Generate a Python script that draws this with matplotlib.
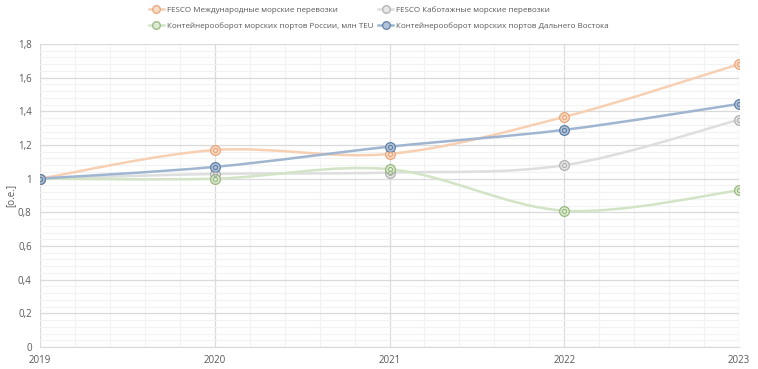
import matplotlib
matplotlib.use("Agg")
import matplotlib.pyplot as plt
from matplotlib.path import Path
from matplotlib.patches import PathPatch
from matplotlib.ticker import MultipleLocator, FuncFormatter
import numpy as np

years = [2019, 2020, 2021, 2022, 2023]
fesco_intl = [1.0, 1.17, 1.147, 1.367, 1.68]
fesco_cabot = [1.0, 1.028, 1.036, 1.08, 1.35]
ports_russia = [1.0, 1.0, 1.056, 0.81, 0.93]
ports_fareast = [1.0, 1.07, 1.19, 1.29, 1.444]

labels = [
    "FESCO Международные морские перевозки",
    "FESCO Каботажные морские перевозки",
    "Контейнерооборот морских портов России, млн TEU",
    "Контейнерооборот морских портов Дальнего Востока",
]
line_colors = ["#F7D0B3", "#DEDEDE", "#D2E4C5", "#9FB5D0"]
face_colors = ["#F9DCC6", "#E6E6E6", "#DDEBD3", "#B3C4DA"]
edge_colors = ["#E9A57A", "#B0B0B0", "#97B87F", "#5F7FA5"]

plt.rcParams['font.family'] = ['Open Sans', 'DejaVu Sans']
text_color = "#595959"


def smooth_path(xs, ys, t=1/6):
    # Excel-style smoothed line: cubic Bezier segments with Catmull-Rom tangents
    pts = np.column_stack([xs, ys]).astype(float)
    n = len(pts)
    verts = [pts[0]]
    codes = [Path.MOVETO]
    for i in range(n - 1):
        p0 = pts[i - 1] if i > 0 else pts[i]
        p1 = pts[i]
        p2 = pts[i + 1]
        p3 = pts[i + 2] if i + 2 < n else pts[i + 1]
        c1 = p1 + (p2 - p0) * t
        c2 = p2 - (p3 - p1) * t
        verts += [c1, c2, p2]
        codes += [Path.CURVE4] * 3
    return Path(verts, codes)


fig = plt.figure(figsize=(7.58, 3.69), dpi=100)
ax = fig.add_axes([0.0528, 0.0596, 0.9222, 0.8212])

series = [fesco_intl, fesco_cabot, ports_russia, ports_fareast]
handles = []
for vals, lc, fc, ec, lab in zip(series, line_colors, face_colors, edge_colors, labels):
    patch = PathPatch(smooth_path(years, vals), facecolor="none", edgecolor=lc,
                      lw=1.8, zorder=3, capstyle="round")
    ax.add_patch(patch)
    ax.plot(years, vals, "o", ms=7, mfc=fc, mec=ec, mew=0.9, zorder=4)
    ax.plot(years, vals, "o", ms=3, mfc="none", mec=ec, mew=0.8, zorder=5)
    h, = ax.plot([], [], "-o", color=lc, lw=1.8, ms=5.5, mfc=fc, mec=ec, mew=0.9,
                 label=lab)
    handles.append(h)

ax.set_xlim(2019, 2023)
ax.set_ylim(0, 1.8)
ax.xaxis.set_major_locator(MultipleLocator(1))
ax.xaxis.set_minor_locator(MultipleLocator(0.2))
ax.yaxis.set_major_locator(MultipleLocator(0.2))
ax.yaxis.set_minor_locator(MultipleLocator(0.04))


def fmt(v, pos):
    s = f"{v:.1f}".rstrip("0").rstrip(".")
    return s.replace(".", ",")


ax.yaxis.set_major_formatter(FuncFormatter(fmt))
ax.xaxis.set_major_formatter(FuncFormatter(lambda v, p: f"{int(round(v))}"))

ax.grid(which="major", color="#DADADA", lw=0.9)
ax.grid(which="minor", color="#F2F2F2", lw=0.8)
ax.set_axisbelow(True)
for side in ["top", "right", "left"]:
    ax.spines[side].set_visible(False)
ax.spines["bottom"].set_color("#D9D9D9")
ax.tick_params(which="both", length=0, colors=text_color, labelsize=7)
ax.tick_params(axis="y", pad=6)
ax.tick_params(axis="x", pad=6)

ax.set_ylabel("[о.е.]", fontsize=7, color=text_color, labelpad=1)

# Excel legend fills row by row; matplotlib fills by column
order = [0, 2, 1, 3]
fig.legend(handles=[handles[i] for i in order], loc="upper center",
           bbox_to_anchor=(0.5, 1.0), ncol=2, frameon=False, fontsize=5.8,
           labelcolor=text_color, handlelength=1.8, columnspacing=0.6,
           handletextpad=0.4, borderaxespad=0.35, labelspacing=1.05)

fig.savefig("out.png", dpi=100)
